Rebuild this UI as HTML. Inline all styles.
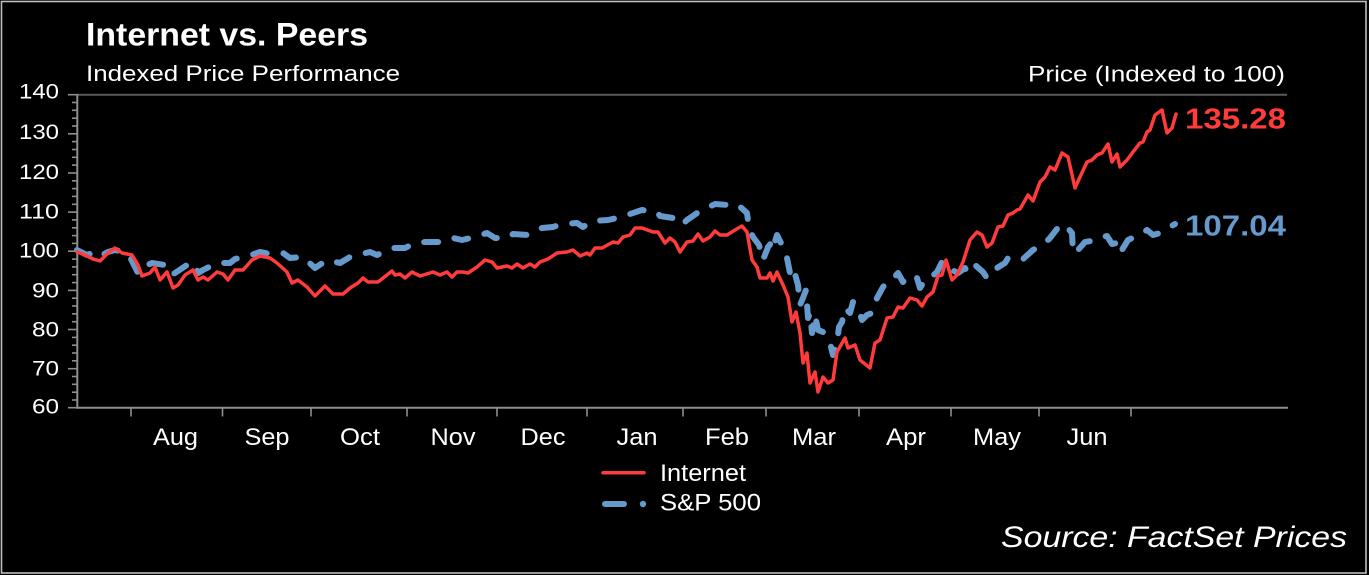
<!DOCTYPE html>
<html>
<head>
<meta charset="utf-8">
<style>
html,body{margin:0;padding:0;background:#000;}
svg{display:block;}
text{font-family:"Liberation Sans",Arial,sans-serif;fill:#fff;}
</style>
</head>
<body>
<svg width="1369" height="575" viewBox="0 0 1369 575" xmlns="http://www.w3.org/2000/svg">
<rect x="0" y="0" width="1369" height="575" fill="#000"/>
<rect x="1.5" y="1.5" width="1364.5" height="571.5" fill="none" stroke="#bdbdbd" stroke-width="1.6"/>
<text x="86" y="45.5" font-size="32" font-weight="bold" textLength="282" lengthAdjust="spacingAndGlyphs">Internet vs. Peers</text>
<text x="86" y="81" font-size="22" textLength="314" lengthAdjust="spacingAndGlyphs">Indexed Price Performance</text>
<text x="1028" y="81.5" font-size="22" textLength="257" lengthAdjust="spacingAndGlyphs">Price (Indexed to 100)</text>
<line x1="77" y1="94.7" x2="1287" y2="94.7" stroke="#5a5a5a" stroke-width="2"/>
<line x1="77.3" y1="94" x2="77.3" y2="408.7" stroke="#8e8e8e" stroke-width="2"/>
<line x1="77" y1="407.7" x2="1288" y2="407.7" stroke="#8e8e8e" stroke-width="2"/>
<g stroke="#8e8e8e" stroke-width="1.6">
<line x1="68" y1="94.7" x2="77" y2="94.7"/>
<line x1="72" y1="102.5" x2="77" y2="102.5"/>
<line x1="72" y1="110.3" x2="77" y2="110.3"/>
<line x1="72" y1="118.2" x2="77" y2="118.2"/>
<line x1="72" y1="126.0" x2="77" y2="126.0"/>
<line x1="68" y1="133.8" x2="77" y2="133.8"/>
<line x1="72" y1="141.6" x2="77" y2="141.6"/>
<line x1="72" y1="149.5" x2="77" y2="149.5"/>
<line x1="72" y1="157.3" x2="77" y2="157.3"/>
<line x1="72" y1="165.1" x2="77" y2="165.1"/>
<line x1="68" y1="173.0" x2="77" y2="173.0"/>
<line x1="72" y1="180.8" x2="77" y2="180.8"/>
<line x1="72" y1="188.6" x2="77" y2="188.6"/>
<line x1="72" y1="196.4" x2="77" y2="196.4"/>
<line x1="72" y1="204.3" x2="77" y2="204.3"/>
<line x1="68" y1="212.1" x2="77" y2="212.1"/>
<line x1="72" y1="219.9" x2="77" y2="219.9"/>
<line x1="72" y1="227.8" x2="77" y2="227.8"/>
<line x1="72" y1="235.6" x2="77" y2="235.6"/>
<line x1="72" y1="243.4" x2="77" y2="243.4"/>
<line x1="68" y1="251.2" x2="77" y2="251.2"/>
<line x1="72" y1="259.1" x2="77" y2="259.1"/>
<line x1="72" y1="266.9" x2="77" y2="266.9"/>
<line x1="72" y1="274.7" x2="77" y2="274.7"/>
<line x1="72" y1="282.6" x2="77" y2="282.6"/>
<line x1="68" y1="290.4" x2="77" y2="290.4"/>
<line x1="72" y1="298.2" x2="77" y2="298.2"/>
<line x1="72" y1="306.0" x2="77" y2="306.0"/>
<line x1="72" y1="313.9" x2="77" y2="313.9"/>
<line x1="72" y1="321.7" x2="77" y2="321.7"/>
<line x1="68" y1="329.5" x2="77" y2="329.5"/>
<line x1="72" y1="337.4" x2="77" y2="337.4"/>
<line x1="72" y1="345.2" x2="77" y2="345.2"/>
<line x1="72" y1="353.0" x2="77" y2="353.0"/>
<line x1="72" y1="360.8" x2="77" y2="360.8"/>
<line x1="68" y1="368.7" x2="77" y2="368.7"/>
<line x1="72" y1="376.5" x2="77" y2="376.5"/>
<line x1="72" y1="384.3" x2="77" y2="384.3"/>
<line x1="72" y1="392.2" x2="77" y2="392.2"/>
<line x1="72" y1="400.0" x2="77" y2="400.0"/>
<line x1="68" y1="407.7" x2="77" y2="407.7"/>
</g>
<g font-size="21" text-anchor="end">
<text x="59" y="98.5" textLength="40" lengthAdjust="spacingAndGlyphs">140</text>
<text x="59" y="138.8" textLength="40" lengthAdjust="spacingAndGlyphs">130</text>
<text x="59" y="179" textLength="40" lengthAdjust="spacingAndGlyphs">120</text>
<text x="59" y="218.5" textLength="40" lengthAdjust="spacingAndGlyphs">110</text>
<text x="59" y="257.5" textLength="40" lengthAdjust="spacingAndGlyphs">100</text>
<text x="59" y="297.5" textLength="27" lengthAdjust="spacingAndGlyphs">90</text>
<text x="59" y="336.5" textLength="27" lengthAdjust="spacingAndGlyphs">80</text>
<text x="59" y="375.5" textLength="27" lengthAdjust="spacingAndGlyphs">70</text>
<text x="59" y="413.5" textLength="27" lengthAdjust="spacingAndGlyphs">60</text>
</g>
<g stroke="#8e8e8e" stroke-width="1.6">
<line x1="131" y1="408" x2="131" y2="416.5"/>
<line x1="222.5" y1="408" x2="222.5" y2="416.5"/>
<line x1="311" y1="408" x2="311" y2="416.5"/>
<line x1="407" y1="408" x2="407" y2="416.5"/>
<line x1="497" y1="408" x2="497" y2="416.5"/>
<line x1="587" y1="408" x2="587" y2="416.5"/>
<line x1="683" y1="408" x2="683" y2="416.5"/>
<line x1="766" y1="408" x2="766" y2="416.5"/>
<line x1="859" y1="408" x2="859" y2="416.5"/>
<line x1="951" y1="408" x2="951" y2="416.5"/>
<line x1="1039" y1="408" x2="1039" y2="416.5"/>
<line x1="1131" y1="408" x2="1131" y2="416.5"/>
</g>
<g font-size="24" text-anchor="middle">
<text x="175.5" y="445" textLength="45" lengthAdjust="spacingAndGlyphs">Aug</text>
<text x="267" y="445" textLength="45" lengthAdjust="spacingAndGlyphs">Sep</text>
<text x="360" y="445" textLength="40" lengthAdjust="spacingAndGlyphs">Oct</text>
<text x="453" y="445" textLength="45" lengthAdjust="spacingAndGlyphs">Nov</text>
<text x="543" y="445" textLength="45" lengthAdjust="spacingAndGlyphs">Dec</text>
<text x="637" y="445" textLength="41" lengthAdjust="spacingAndGlyphs">Jan</text>
<text x="727" y="445" textLength="44" lengthAdjust="spacingAndGlyphs">Feb</text>
<text x="814" y="445" textLength="44" lengthAdjust="spacingAndGlyphs">Mar</text>
<text x="906" y="445" textLength="40" lengthAdjust="spacingAndGlyphs">Apr</text>
<text x="997" y="445" textLength="48" lengthAdjust="spacingAndGlyphs">May</text>
<text x="1087" y="445" textLength="41" lengthAdjust="spacingAndGlyphs">Jun</text>
</g>
<polyline fill="none" stroke="#6699cc" stroke-width="6" stroke-linecap="round" stroke-linejoin="round" stroke-dasharray="14 17" points="77,250 87,255 92,253 98,257 108,252 115,250 125,252 130,257 138,273 140,268 152,263 165,265 172,275 178,271 190,263 195,264 198,273 203,270 217,263 230,263 235,259 248,256 260,252 270,254 283,253 290,258 303,257 315,268 327,260 340,263 350,257 357,255 370,252 377,255 392,248 405,248 415,243 425,242 442,242 453,238 462,240 475,237 487,233 495,238 508,238 513,234 528,235 542,228 553,227 562,224 577,223 583,227 592,221 608,220 617,218 627,215 642,210 657,212 660,216 673,218 682,225 687,220 700,211 707,208 715,204 728,205 737,204 747,213 749,228 753,237 759,245 763,260 768,247 772,242 773,248 777,235 782,245 787,258 790,273 793,267 798,285 800,305 803,298 806,290 808,318 810,313 812,333 815,315 818,330 823,332 830,343 833,355 837,342 839,327 842,322 845,308 850,313 853,302 858,308 862,320 867,315 872,313 877,298 883,287 887,282 893,279 898,273 903,282 910,275 917,278 920,288 925,280 928,280 937,272 942,262 947,263 952,270 958,273 965,268 968,273 975,265 983,272 987,278 992,272 997,268 1005,263 1008,258 1022,260 1033,250 1045,243 1050,238 1060,225 1065,225 1072,233 1073,253 1078,250 1085,242 1097,240 1102,237 1107,236 1112,244 1117,243 1120,253 1125,245 1128,240 1143,233 1147,230 1153,235 1160,233 1168,228 1175,224"/>
<polyline fill="none" stroke="#ff3b3b" stroke-width="3.5" stroke-linejoin="round" stroke-linecap="round" points="77,251.7 85,255 93,259 100,261 108,253 115,248 122,253 132,255 138,265 142,276 150,273 155,267 160,280 167,272 173,288 178,285 185,275 193,270 198,280 203,277 208,280 217,272 223,274 228,280 235,270 243,270 252,260 260,256 270,258 277,263 287,272 292,283 298,280 307,287 315,296 325,286 333,294 343,294 350,288 358,283 363,278 368,282 378,282 392,271 395,275 400,274 405,278 412,272 420,276 433,272 440,275 447,272 452,277 457,272 463,272 468,273 477,267 485,260 492,262 497,268 507,266 512,268 517,264 523,268 530,264 535,267 540,262 548,259 557,253 567,252 573,250 580,256 587,253 590,255 595,248 602,248 613,242 618,243 623,237 630,235 635,228 642,228 653,232 658,232 665,243 670,238 675,242 680,252 687,242 693,241 698,234 703,241 710,237 715,231 720,235 727,235 735,230 742,226 747,232 752,260 757,267 760,278 767,278 770,273 773,281 777,272 783,285 788,297 792,322 796,312 800,333 803,363 807,353 810,383 815,372 818,392 823,377 828,383 833,380 837,352 845,338 848,348 855,345 860,360 870,368 875,343 880,340 887,318 893,317 898,307 903,308 910,298 917,300 922,306 927,297 933,292 938,276 942,275 946,260 952,280 957,275 963,262 970,240 977,232 982,235 987,247 992,243 998,227 1003,226 1008,215 1013,213 1017,210 1020,209 1028,195 1033,201 1040,182 1045,177 1050,167 1055,170 1062,153 1068,157 1075,188 1080,177 1087,162 1092,160 1097,155 1102,153 1108,144 1112,162 1117,154 1120,167 1127,160 1133,152 1140,143 1143,142 1147,132 1150,130 1155,115 1162,110 1167,133 1172,128 1176,114"/>
<text x="1185" y="128.3" font-size="29" font-weight="bold" style="fill:#ff3b3b" textLength="101" lengthAdjust="spacingAndGlyphs">135.28</text>
<text x="1185" y="235.7" font-size="29" font-weight="bold" style="fill:#6699cc" textLength="101" lengthAdjust="spacingAndGlyphs">107.04</text>
<line x1="603" y1="472.7" x2="644" y2="472.7" stroke="#ff3b3b" stroke-width="3.5" stroke-linecap="round"/>
<line x1="605" y1="504" x2="624" y2="504" stroke="#6699cc" stroke-width="6" stroke-linecap="round"/>
<circle cx="643" cy="504" r="3.2" fill="#6699cc"/>
<text x="660" y="481" font-size="24" textLength="86" lengthAdjust="spacingAndGlyphs">Internet</text>
<text x="660" y="510.5" font-size="24" textLength="101" lengthAdjust="spacingAndGlyphs">S&amp;P 500</text>
<text x="1001" y="547" font-size="30" font-style="italic" textLength="346" lengthAdjust="spacingAndGlyphs">Source: FactSet Prices</text>
</svg>
</body>
</html>
